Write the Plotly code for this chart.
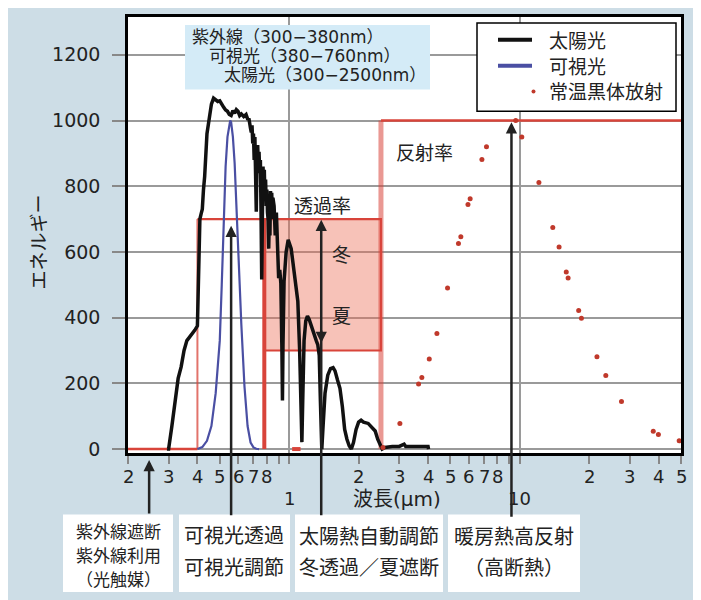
import numpy as np
import plotly.graph_objects as go

# ---------------- data ----------------
# Solar spectrum (black line): (wavelength um, energy)
solar_pts = [
    (0.295, 0), (0.30, 0), (0.31, 70), (0.32, 150), (0.33, 215), (0.34, 250), (0.35, 300),
    (0.36, 330), (0.37, 340), (0.38, 352), (0.39, 362), (0.40, 375), (0.405, 560), (0.41, 700),
    (0.415, 716), (0.42, 730), (0.425, 790), (0.43, 830), (0.44, 960), (0.45, 1010), (0.46, 1050),
    (0.47, 1068), (0.48, 1062), (0.49, 1058), (0.50, 1060), (0.51, 1048), (0.52, 1040), (0.53, 1032),
    (0.54, 1028), (0.55, 1018), (0.56, 1015), (0.57, 1030), (0.58, 1022), (0.59, 1033), (0.60, 1028),
    (0.61, 1015), (0.62, 1020), (0.635, 1012), (0.65, 1018), (0.66, 1005), (0.67, 1003), (0.68, 975),
    (0.685, 964), (0.69, 985), (0.695, 930), (0.70, 960), (0.705, 880), (0.71, 950), (0.715, 800),
    (0.72, 722), (0.725, 900), (0.73, 925), (0.735, 860), (0.74, 905), (0.745, 840), (0.75, 880),
    (0.755, 720), (0.76, 516), (0.765, 700), (0.77, 860), (0.775, 800), (0.78, 850), (0.785, 760),
    (0.79, 820), (0.795, 740), (0.80, 790), (0.805, 720), (0.81, 700), (0.815, 610), (0.82, 700),
    (0.825, 650), (0.83, 785), (0.835, 700), (0.84, 780), (0.845, 700), (0.85, 765), (0.86, 740),
    (0.87, 650), (0.88, 720), (0.89, 560), (0.90, 520), (0.91, 545), (0.92, 505), (0.93, 300),
    (0.935, 148), (0.94, 320), (0.95, 510), (0.97, 600), (0.99, 637), (1.02, 610), (1.05, 545),
    (1.07, 500), (1.09, 450), (1.11, 300), (1.125, 100), (1.135, 21), (1.145, 150), (1.16, 330),
    (1.18, 390), (1.20, 405), (1.22, 395), (1.25, 370), (1.28, 345), (1.31, 330), (1.33, 318),
    (1.35, 285), (1.365, 150), (1.375, 20), (1.385, 0), (1.40, 60), (1.43, 170), (1.47, 225),
    (1.51, 245), (1.55, 248), (1.58, 238), (1.62, 210), (1.66, 185), (1.70, 130), (1.74, 60),
    (1.78, 30), (1.82, 10), (1.86, 0), (1.90, 20), (1.95, 60), (2.00, 82), (2.05, 88), (2.10, 82),
    (2.20, 78), (2.30, 65), (2.36, 55), (2.42, 30), (2.48, 10), (2.53, 0), (2.60, 5), (2.80, 8),
    (3.00, 8), (3.10, 12), (3.15, 15), (3.20, 8), (3.50, 8), (3.80, 8), (4.00, 8), (4.02, 0),
]
solar_wl = [p[0] for p in solar_pts]
solar_E = [p[1] for p in solar_pts]

# Visible light (blue line)
vis_wl = [0.40, 0.42, 0.44, 0.46, 0.48, 0.50, 0.51, 0.52, 0.53, 0.54, 0.55, 0.555, 0.56,
          0.57, 0.58, 0.59, 0.60, 0.61, 0.62, 0.64, 0.66, 0.68, 0.70, 0.72, 0.74]
vis_E = [0, 6, 25, 70, 170, 330, 500, 700, 860, 950, 995, 1000, 995,
         950, 870, 760, 630, 500, 380, 190, 70, 20, 5, 1, 0]

# Room-temperature black-body radiation (red dots)
bb_wl = [2.55, 3.02, 3.64, 3.76, 4.05, 4.37, 4.86, 5.42, 5.55, 5.96, 6.09, 6.85, 7.17, 9.6,
         10.2, 12.1, 13.9, 14.8, 15.9, 16.2, 18.0, 18.5, 21.6, 23.6, 27.6, 37.9, 39.9, 49.1]
bb_E = [5, 78, 198, 218, 274, 352, 490, 626, 646, 744, 762, 881, 920, 1000,
        950, 811, 674, 615, 539, 521, 422, 398, 281, 224, 145, 54, 44, 25]

# Window performance steps (red)
cut_wl, cut_E = [0.2, 0.4], [0, 0]                                # UV cut
vis_edge_wl, vis_edge_E = [0.4, 0.4], [0, 700]
trans_wl, trans_E = [0.4, 2.5], [700, 700]                        # visible transmittance
nir_wl, nir_E = [0.78, 0.78], [0, 700]                            # NIR edge
nir_base_wl, nir_base_E = [1.03, 1.12], [0, 0]
season_wl = [0.78, 2.5, 2.5, 0.78, 0.78]                          # winter 700 / summer 300
season_E = [300, 300, 700, 700, 300]
refl_edge_wl, refl_edge_E = [2.5, 2.5], [0, 1000]
refl_wl, refl_E = [2.5, 50], [1000, 1000]                         # reflectance

# axis ticks
minor_vals = [0.2, 0.3, 0.4, 0.5, 0.6, 0.7, 0.8, 0.9, 2, 3, 4, 5, 6, 7, 8, 9, 20, 30, 40, 50]
label_vals = [0.2, 0.3, 0.4, 0.5, 0.6, 0.7, 0.8, 2, 3, 4, 5, 6, 7, 8, 20, 30, 40, 50]
label_text = ["2", "3", "4", "5", "6", "7", "8", "2", "3", "4", "5", "6", "7", "8", "2", "3", "4", "5"]
major_vals, major_text = [1, 10], ["1", "10"]
y_ticks = [0, 200, 400, 600, 800, 1000, 1200]

legend_names = ["太陽光", "可視光", "常温黒体放射"]

# ---------------- figure ----------------
# the page body has an 8px margin; figure is sized to fit the 701x600 window
BODY = 8
W, H = 701 - BODY, 600 - BODY
# plot area in page pixels
PL, PR, PT, PB = 128, 681, 14, 453
ML, MR, MT, MB = PL - BODY, W - (PR - BODY), PT - BODY, H - (PB - BODY)
PW, PH = PR - PL, PB - PT


def px(xp):
    return (xp - PL) / PW


def py(yp):
    return (PB - yp) / PH


RED = "#d8443a"
BLACK = "#111111"
BLUE = "#4a4fa3"
DOT = "#c0392b"
CJK = "Noto Sans CJK JP"
NUM = "DejaVu Sans"
MIX = "DejaVu Sans, Noto Sans CJK JP"
TXT = "#222222"

fig = go.Figure()


def add_line(x, y, color, width, **kw):
    fig.add_trace(go.Scatter(x=x, y=y, mode="lines", line=dict(color=color, width=width),
                             showlegend=False, hoverinfo="skip", **kw))


add_line(season_wl, season_E, RED, 2, fill="toself", fillcolor="rgba(236,110,85,0.42)")
add_line(cut_wl, cut_E, RED, 2.5)
add_line(vis_edge_wl, vis_edge_E, "rgba(216,68,58,0.75)", 2)
add_line(trans_wl, trans_E, RED, 2.2)
add_line(nir_wl, nir_E, RED, 4)
add_line(nir_base_wl, nir_base_E, RED, 4)
add_line(refl_edge_wl, refl_edge_E, "rgba(216,68,58,0.55)", 5)
add_line(refl_wl, refl_E, RED, 2.5)

fig.add_trace(go.Scatter(x=solar_wl, y=solar_E, mode="lines", name=legend_names[0],
                         line=dict(color=BLACK, width=3.5), showlegend=False))
fig.add_trace(go.Scatter(x=vis_wl, y=vis_E, mode="lines", name=legend_names[1],
                         line=dict(color=BLUE, width=2.2), showlegend=False))
fig.add_trace(go.Scatter(x=bb_wl, y=bb_E, mode="markers", name=legend_names[2],
                         marker=dict(color=DOT, size=5), showlegend=False))

ann = []
# x tick labels
for v, t in zip(label_vals, label_text):
    ann.append(dict(x=np.log10(v), xref="x", y=py(477), yref="paper", text=t, showarrow=False,
                    xanchor="center", yanchor="middle", font=dict(family=NUM, size=18, color=TXT)))
for v, t in zip(major_vals, major_text):
    ann.append(dict(x=np.log10(v), xref="x", y=py(499), yref="paper", text=t, showarrow=False,
                    xanchor="center", yanchor="middle", font=dict(family=NUM, size=18, color=TXT)))
# axis titles
ann.append(dict(x=px(397), xref="paper", y=py(499), yref="paper", text="波長(μm)", showarrow=False,
                xanchor="center", yanchor="middle", font=dict(family=MIX, size=20, color=TXT)))
ann.append(dict(x=px(37), xref="paper", y=py(241), yref="paper", text="エネルギー", showarrow=False,
                textangle=-90, xanchor="center", yanchor="middle",
                font=dict(family=CJK, size=19, color=TXT)))

# top-left info box text
for t, xl, yc in [("紫外線（300−380nm）", 190, 34), ("可視光（380−760nm）", 207, 53),
                  ("太陽光（300−2500nm）", 222, 72)]:
    ann.append(dict(x=px(xl), xref="paper", y=py(yc), yref="paper", text=t, showarrow=False,
                    xanchor="left", yanchor="middle", font=dict(family=MIX, size=17, color=TXT)))

# in-plot labels
ann.append(dict(x=np.log10(1.39), y=743, text="透過率", showarrow=False,
                font=dict(family=CJK, size=19, color=TXT)))
ann.append(dict(x=np.log10(1.68), y=595, text="冬", showarrow=False,
                font=dict(family=CJK, size=19, color=TXT)))
ann.append(dict(x=np.log10(1.68), y=410, text="夏", showarrow=False,
                font=dict(family=CJK, size=19, color=TXT)))
ann.append(dict(x=np.log10(3.85), y=906, text="反射率", showarrow=False,
                font=dict(family=CJK, size=19, color=TXT)))

# arrows
BOX_TOP = 515
arrow_style = dict(showarrow=True, arrowhead=2, arrowsize=0.9, arrowwidth=2.5,
                   arrowcolor="#222222", text="", ax=0, standoff=0)
ann.append(dict(x=np.log10(0.247), xref="x", y=py(460), yref="paper", ay=BOX_TOP - 460, **arrow_style))
ann.append(dict(x=np.log10(0.56), y=680, ay=BOX_TOP - 224, **arrow_style))
ann.append(dict(x=np.log10(1.377), y=698, ay=BOX_TOP - 218, **arrow_style))
ann.append(dict(x=np.log10(1.377), y=323, ay=-14, **arrow_style))
ann.append(dict(x=np.log10(9.2), y=995, ay=BOX_TOP - 119, **arrow_style))

# bottom boxes text
box_lines = [
    (118, 17, [("紫外線遮断", 531), ("紫外線利用", 555), ("（光触媒）", 579)]),
    (234, 20, [("可視光透過", 535), ("可視光調節", 567)]),
    (369, 20, [("太陽熱自動調節", 536), ("冬透過／夏遮断", 567)]),
    (514, 20, [("暖房熱高反射", 536), ("（高断熱）", 567)]),
]
for xc, fs, lines in box_lines:
    for t, yc in lines:
        ann.append(dict(x=px(xc), xref="paper", y=py(yc), yref="paper", text=t, showarrow=False,
                        xanchor="center", yanchor="middle", font=dict(family=CJK, size=fs, color=TXT)))

shapes = []
# info box background
shapes.append(dict(type="rect", xref="paper", yref="paper", x0=px(185), x1=px(430),
                   y0=py(87), y1=py(22), fillcolor="#d4ebf7", line=dict(width=0), layer="above"))
# bottom white boxes
for x0, x1 in [(63, 173), (179, 290), (295, 443), (448, 580)]:
    shapes.append(dict(type="rect", xref="paper", yref="paper", x0=px(x0), x1=px(x1),
                       y0=py(593), y1=py(515), fillcolor="white", line=dict(width=0), layer="below"))

# legend (drawn by hand to match the boxed legend)
shapes.append(dict(type="rect", xref="paper", yref="paper", x0=px(477), x1=px(676),
                   y0=py(109), y1=py(20), fillcolor="white", line=dict(color="black", width=1.5),
                   layer="above"))
for yc, col in [(37, BLACK), (63, BLUE)]:
    shapes.append(dict(type="line", xref="paper", yref="paper", x0=px(498), x1=px(532),
                       y0=py(yc), y1=py(yc), line=dict(color=col, width=4), layer="above"))
shapes.append(dict(type="circle", xref="paper", yref="paper", x0=px(531.5), x1=px(535.5),
                   y0=py(91), y1=py(87), fillcolor=DOT, line=dict(width=0), layer="above"))
for name, yc in zip(legend_names, [37, 63, 88]):
    ann.append(dict(x=px(547), xref="paper", y=py(yc), yref="paper", text=name, showarrow=False,
                    xanchor="left", yanchor="middle", font=dict(family=CJK, size=19, color=TXT)))

fig.update_layout(
    width=W, height=H, autosize=False,
    margin=dict(l=ML, r=MR, t=MT, b=MB, pad=0),
    paper_bgcolor="#cddde6", plot_bgcolor="white",
    font=dict(family=CJK, color=TXT),
    xaxis=dict(type="log", range=[np.log10(0.2), np.log10(50)],
               tickvals=major_vals, showticklabels=False, ticks="outside", ticklen=8,
               tickwidth=2, tickcolor="#888888", showgrid=True, gridcolor="#9a9a9a", gridwidth=1.5,
               showline=True, linecolor="black", linewidth=2.5, mirror=True, zeroline=False,
               minor=dict(tickvals=minor_vals, ticks="outside", ticklen=8, tickwidth=2,
                          tickcolor="#888888", showgrid=False)),
    yaxis=dict(range=[-12, 1315], tickvals=y_ticks, ticks="outside", ticklen=13, tickwidth=2,
               tickcolor="#888888", showgrid=True, gridcolor="#9a9a9a", gridwidth=1.5,
               showline=True, linecolor="black", linewidth=2.5, mirror=True, zeroline=False,
               tickfont=dict(family=NUM, size=19, color=TXT), ticklabelstandoff=8),
    annotations=ann, shapes=shapes, showlegend=False,
)

fig.write_html("out.html")
